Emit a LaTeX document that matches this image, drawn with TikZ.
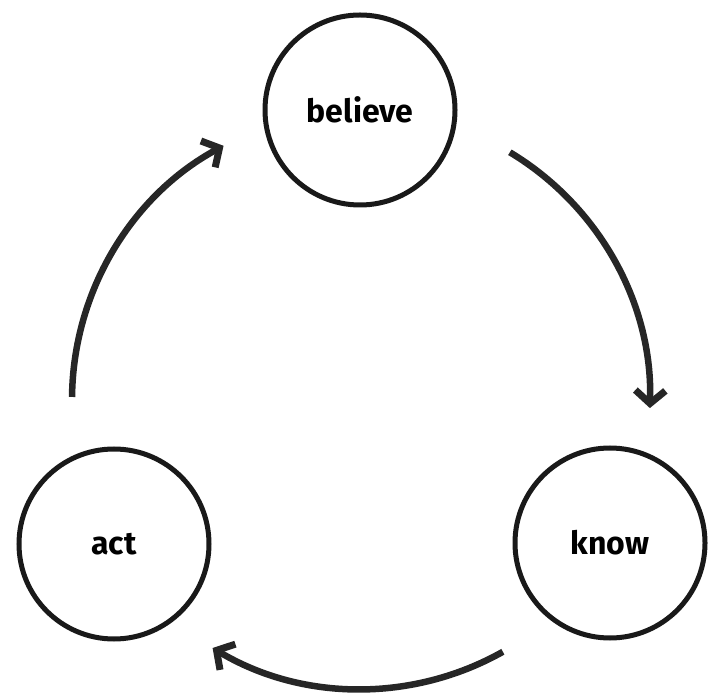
\documentclass[tikz,border=0pt]{standalone}
\usepackage{fontspec}
\setmainfont{Fira Sans}
\usetikzlibrary{arrows.meta}
\begin{document}
\begin{tikzpicture}[x=1pt,y=1pt,
  stage/.style={circle, draw=black!90, line width=5pt, minimum size=190pt, inner sep=0pt, font=\fontsize{32}{36}\selectfont\bfseries},
  cyc/.style={draw=black!85, line width=6.5pt, -{Straight Barb[length=13pt,width=30pt,line width=7pt]}}]
\useasboundingbox (0,0) rectangle (708,693);
\node[stage] (believe) at (360,583) {believe};
\node[stage] (act) at (114,149) {act};
\node[stage] (know) at (610,150) {know};
\coordinate (c) at (361,293);
\draw[cyc] (c) ++(59:289) arc[start angle=59, end angle=-1.6, radius=289];
\draw[cyc] (c) ++(-60.6:289) arc[start angle=-60.6, end angle=-120.9, radius=289];
\draw[cyc] (c) ++(179.4:289) arc[start angle=179.4, end angle=118.4, radius=289];
\end{tikzpicture}
\end{document}
